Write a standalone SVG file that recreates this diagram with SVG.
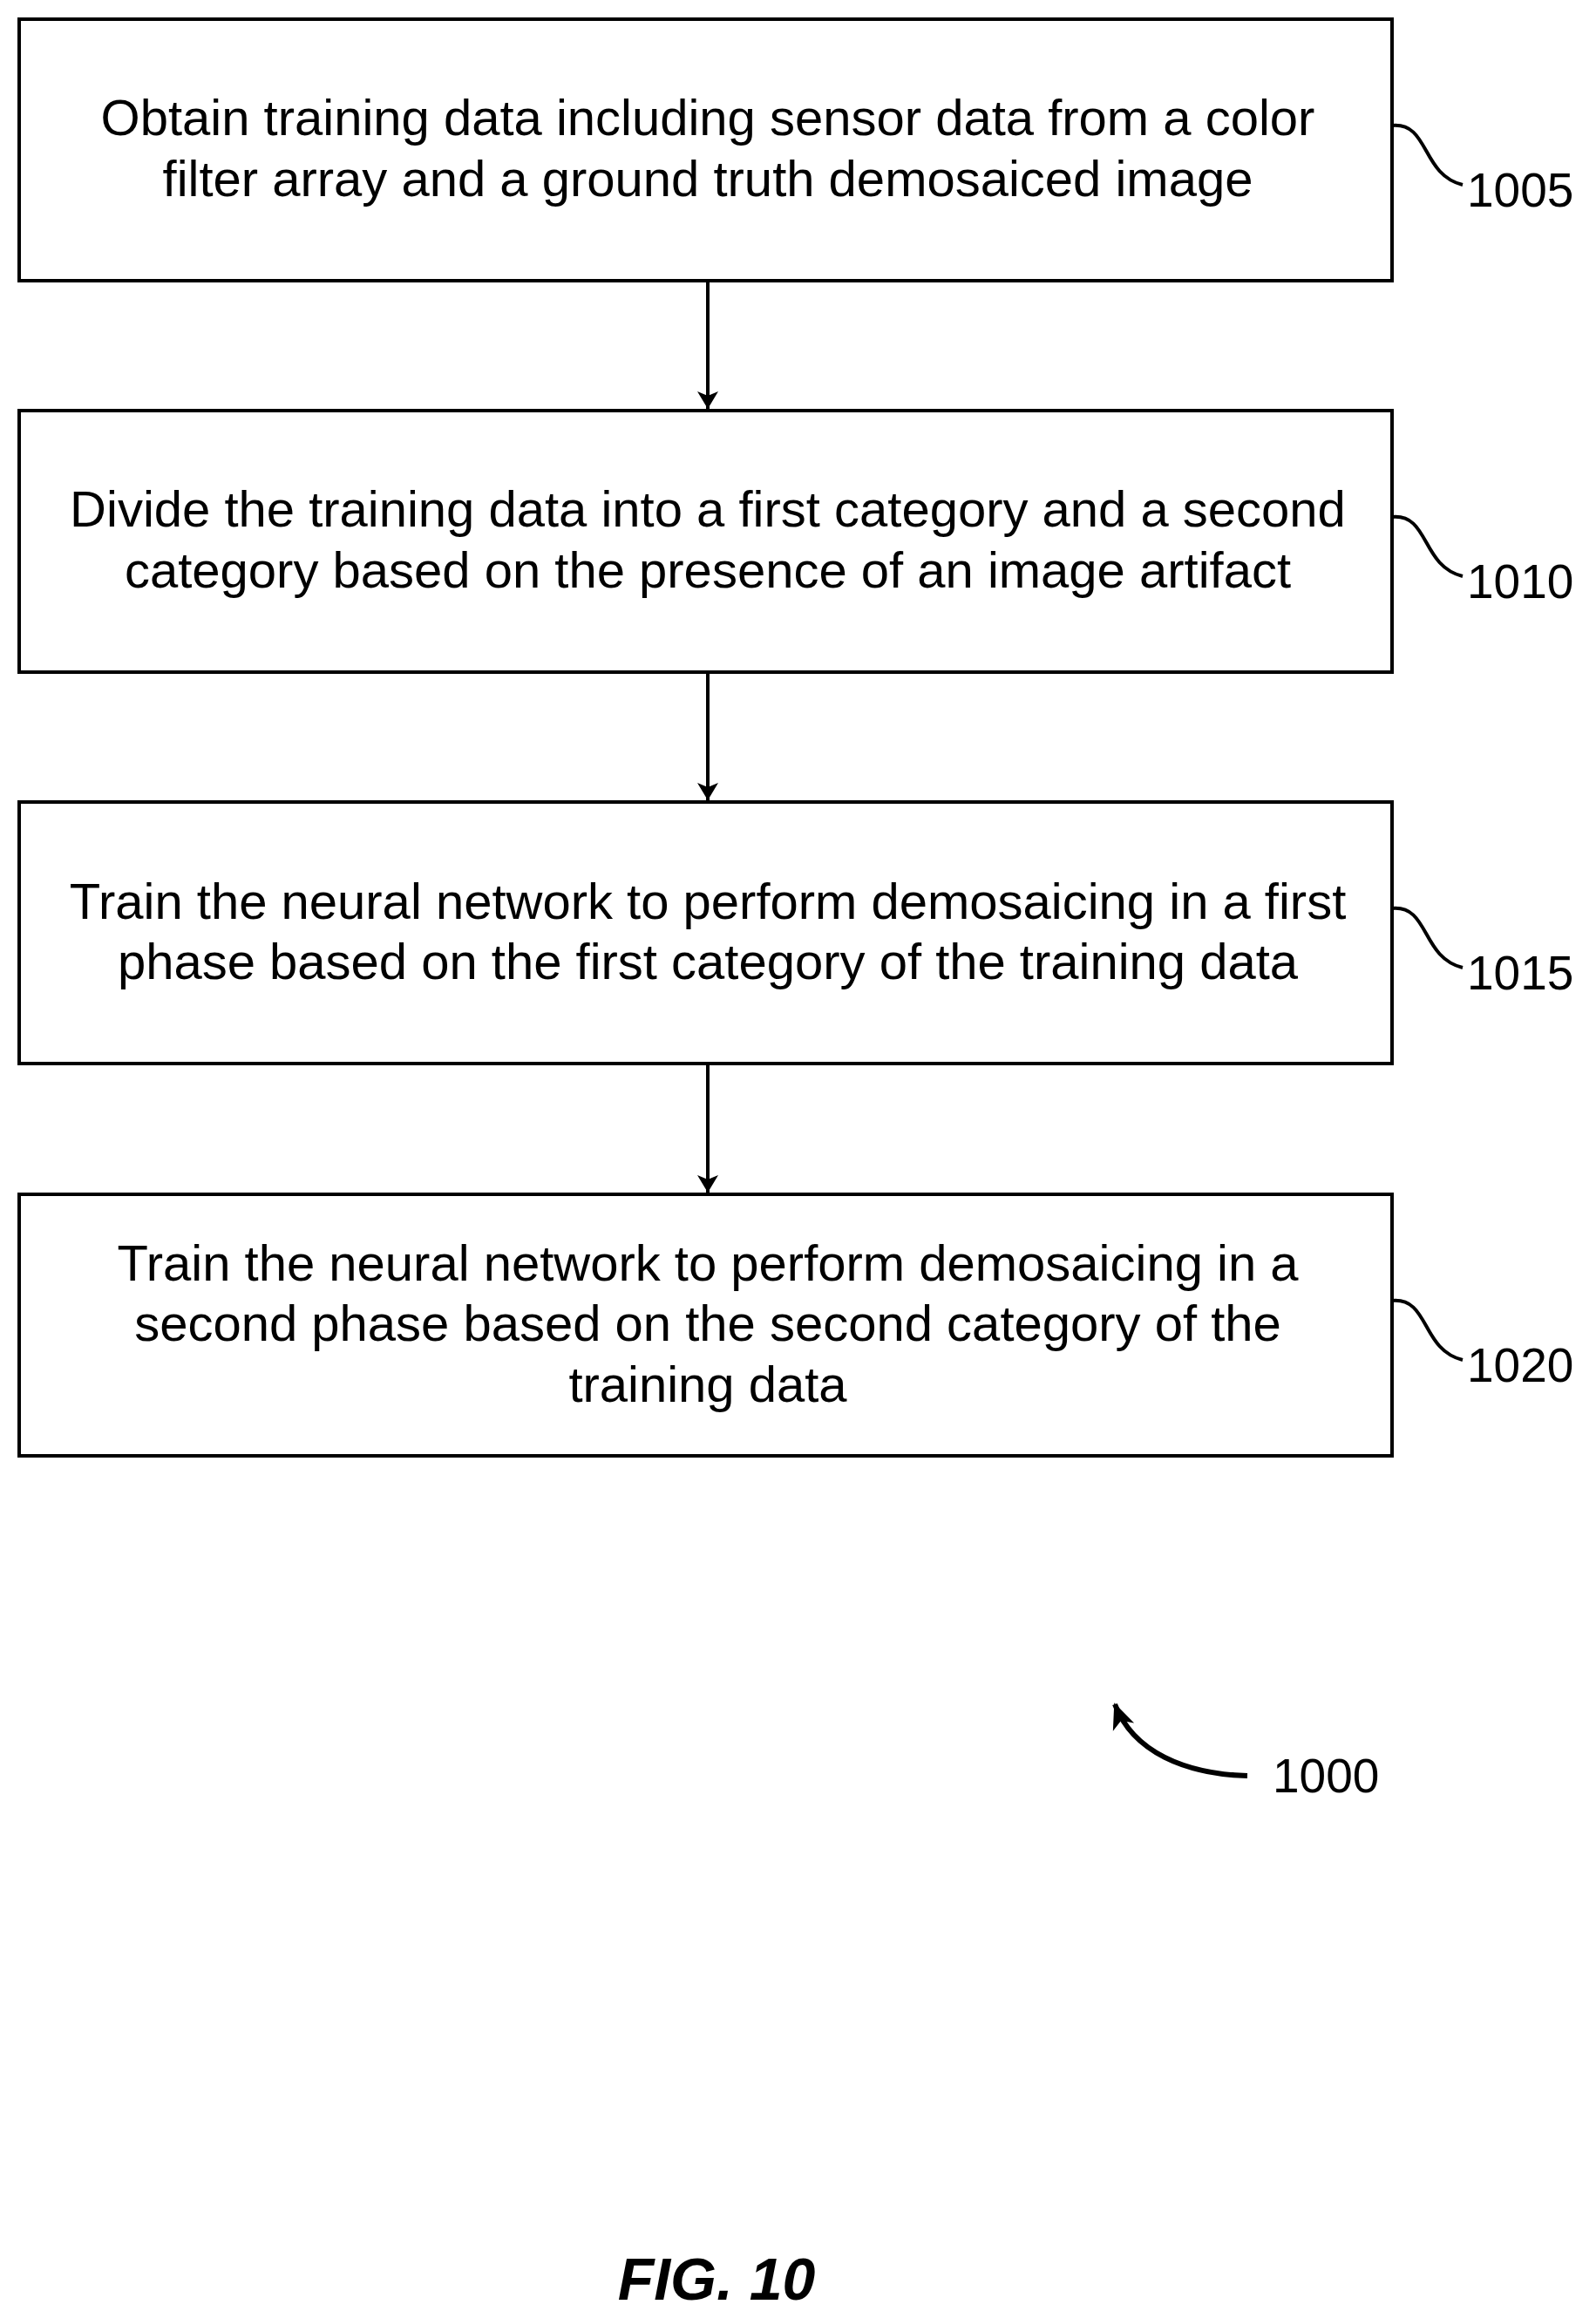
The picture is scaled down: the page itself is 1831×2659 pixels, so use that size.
<svg xmlns="http://www.w3.org/2000/svg" width="1831" height="2659" viewBox="0 0 1831 2659">
<style>
.b{fill:#fff;stroke:#000;stroke-width:4}
.t{font-family:"Liberation Sans",Arial,sans-serif;font-size:58px;text-anchor:middle;fill:#000}
.l{font-family:"Liberation Sans",Arial,sans-serif;font-size:55px;fill:#000}
.c{fill:none;stroke:#000;stroke-width:4}
</style>
<defs><marker id="a" markerWidth="20" markerHeight="24" refX="20" refY="12" orient="auto" markerUnits="userSpaceOnUse" viewBox="0 0 20 24"><path d="M0,0L20,12L0,24L5,12z"/></marker>
<marker id="a2" markerWidth="30" markerHeight="30" refX="28" refY="15" orient="auto" markerUnits="userSpaceOnUse" viewBox="0 0 30 30"><path d="M0,2L30,15L0,28L8,15z"/></marker></defs>
<rect width="1831" height="2659" fill="#fff"/>
<g id="n1005"><rect class="b" x="22" y="22" width="1575" height="300"/>
<text class="t" x="812" y="155">Obtain training data including sensor data from a color</text>
<text class="t" x="812" y="225">filter array and a ground truth demosaiced image</text>
<path class="c" d="M1597,144 C1640,140 1630,200 1678,212"/><text class="l" x="1683" y="237">1005</text></g>
<g id="n1010"><rect class="b" x="22" y="471" width="1575" height="300"/>
<text class="t" x="812" y="604">Divide the training data into a first category and a second</text>
<text class="t" x="812" y="674">category based on the presence of an image artifact</text>
<path class="c" d="M1597,593 C1640,589 1630,649 1678,661"/><text class="l" x="1683" y="686">1010</text></g>
<g id="n1015"><rect class="b" x="22" y="920" width="1575" height="300"/>
<text class="t" x="812" y="1054">Train the neural network to perform demosaicing in a first</text>
<text class="t" x="812" y="1123">phase based on the first category of the training data</text>
<path class="c" d="M1597,1042 C1640,1038 1630,1098 1678,1110"/><text class="l" x="1683" y="1135">1015</text></g>
<g id="n1020"><rect class="b" x="22" y="1370" width="1575" height="300"/>
<text class="t" x="812" y="1469">Train the neural network to perform demosaicing in a</text>
<text class="t" x="812" y="1538">second phase based on the second category of the</text>
<text class="t" x="812" y="1608">training data</text>
<path class="c" d="M1597,1492 C1640,1488 1630,1548 1678,1560"/><text class="l" x="1683" y="1585">1020</text></g>
<g id="connectors">
<line class="c" x1="812" y1="322" x2="812" y2="469" marker-end="url(#a)"/>
<line class="c" x1="812" y1="771" x2="812" y2="918" marker-end="url(#a)"/>
<line class="c" x1="812" y1="1220" x2="812" y2="1368" marker-end="url(#a)"/>
<path d="M1431,2037 C1360,2035 1300,2010 1279,1955" fill="none" stroke="#000" stroke-width="6" marker-end="url(#a2)"/>
</g>
<text class="l" x="1460" y="2056" font-size="56">1000</text>
<text x="822" y="2638" text-anchor="middle" font-family="Liberation Sans,Arial,sans-serif" font-size="68" font-weight="bold" font-style="italic">FIG. 10</text>
</svg>
